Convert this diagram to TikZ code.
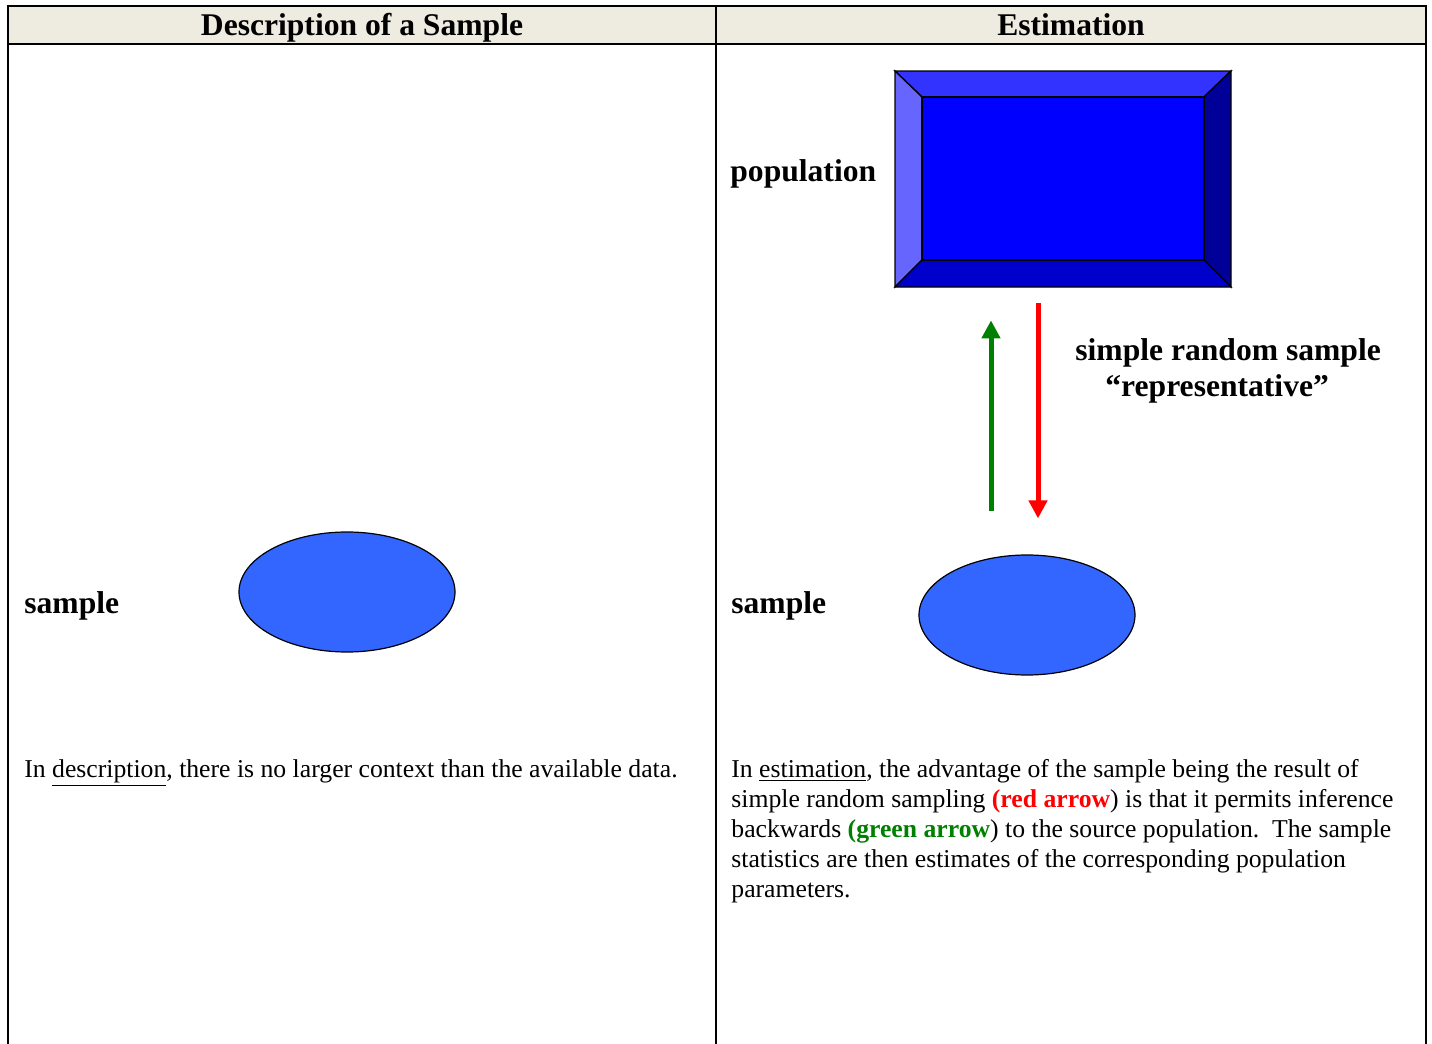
\documentclass[tikz,border=0pt]{standalone}
\usepackage{fontspec}
\setmainfont{Liberation Serif}
\usetikzlibrary{arrows.meta,shapes.geometric}
\definecolor{hdr}{HTML}{EEEBE0}
\definecolor{sampblue}{HTML}{3366FF}
\definecolor{bvtop}{HTML}{3333FF}
\definecolor{bvleft}{HTML}{6666FF}
\definecolor{bvright}{HTML}{000099}
\definecolor{bvbot}{HTML}{0000CC}
\definecolor{bvmid}{HTML}{0000FF}
\definecolor{arrgreen}{HTML}{008000}
\definecolor{arrred}{HTML}{FF0000}
\begin{document}
\begin{tikzpicture}[x=0.5pt,y=-0.5pt,
  tbl/.style={line width=1pt,black},
  hdrtext/.style={anchor=base,inner sep=0,font=\fontsize{15.8}{18}\selectfont\bfseries},
  lbl/.style={anchor=base west,inner sep=0,font=\fontsize{15.8}{18}\selectfont\bfseries},
  body/.style={anchor=base west,inner sep=0,font=\fontsize{12.85}{15}\selectfont},
  sampell/.style={ellipse,draw=black,line width=0.6pt,fill=sampblue,minimum width=108pt,minimum height=60pt,inner sep=0},
  bevel/.style={draw=black,line width=0.7pt,line join=miter},
  upar/.style={line width=2.5pt,arrgreen,-{Triangle[width=9pt,length=9pt]}},
  dnar/.style={line width=2.5pt,arrred,-{Triangle[width=9pt,length=9pt]}}
]
\useasboundingbox (0,0) rectangle (1432,1044);
\fill[white] (0,0) rectangle (1432,1044);
% table
\fill[hdr] (8,6) rectangle (1426,44);
\draw[tbl] (8,1044) -- (8,6) -- (1426,6) -- (1426,1044);
\draw[tbl] (8,44) -- (1426,44);
\draw[tbl] (716,6) -- (716,1044);
\node[hdrtext] (h1) at (362,35) {Description of a Sample};
\node[hdrtext] (h2) at (1071,35) {Estimation};
% left column
\node[lbl] (sl) at (24,613) {sample};
\node[sampell] (e1) at (347,592) {};
\node[body] (t1) at (24,777) {In \underline{description}, there is no larger context than the available data.};
% right column: population box
\node[minimum width=168pt,minimum height=108pt,inner sep=0] (pop) at (1063,179) {};
\fill[bvmid] (922,97) rectangle (1204,260);
\filldraw[bevel,fill=bvtop] (895,71) -- (1231,71) -- (1204,97) -- (922,97) -- cycle;
\filldraw[bevel,fill=bvleft] (895,71) -- (922,97) -- (922,260) -- (895,287) -- cycle;
\filldraw[bevel,fill=bvright] (1231,71) -- (1231,287) -- (1204,260) -- (1204,97) -- cycle;
\filldraw[bevel,fill=bvbot] (895,287) -- (922,260) -- (1204,260) -- (1231,287) -- cycle;
\draw[bevel] (922,97) rectangle (1204,260);
\node[lbl] (pl) at (730,181) {population};
\node[lbl] (srs) at (1075,360) {simple random sample};
\node[lbl] (rep) at (1105,396) {“representative”};
% sample
\node[lbl] (sr) at (731,613) {sample};
\node[sampell] (e2) at (1027,615) {};
% arrows
\coordinate (gx) at (991,0);
\coordinate (rx) at (1038,0);
\draw[upar,shorten <=21.5pt,shorten >=16.5pt] (gx |- e2.north) -- (gx |- pop.south);
\draw[dnar,shorten <=8pt,shorten >=18pt] (rx |- pop.south) -- (rx |- e2.north);
% paragraph
\node[body] (p1) at (731,777) {In \underline{estimation}, the advantage of the sample being the result of};
\node[body] (p2) at (731,807) {simple random sampling {\color{arrred}\bfseries(red arrow}) is that it permits inference};
\node[body] (p3) at (731,837) {backwards {\color{arrgreen}\bfseries(green arrow}) to the source population.\ \ The sample};
\node[body] (p4) at (731,867) {statistics are then estimates of the corresponding population};
\node[body] (p5) at (731,897) {parameters.};
\end{tikzpicture}
\end{document}
